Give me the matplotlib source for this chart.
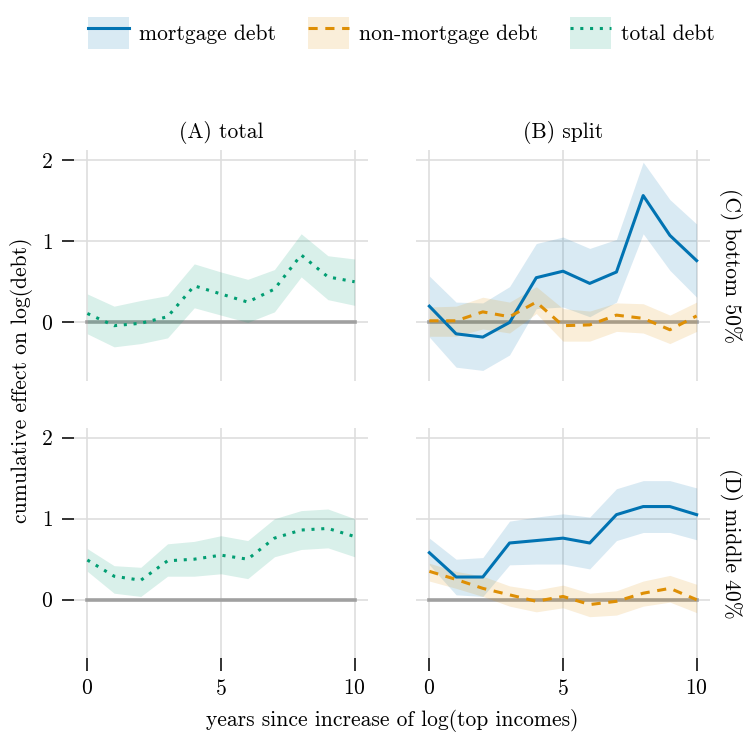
import matplotlib
matplotlib.use("Agg")
import matplotlib.pyplot as plt
from matplotlib.patches import Patch
from matplotlib.lines import Line2D
import numpy as np

plt.rcParams['font.family'] = ['cmr10', 'DejaVu Serif']
plt.rcParams['mathtext.fontset'] = 'cm'
plt.rcParams['axes.formatter.use_mathtext'] = True
plt.rcParams['axes.unicode_minus'] = False

years = list(range(11))

# (A)/(C) total debt, bottom 50%
tot_b50 = [0.11, -0.04, -0.01, 0.07, 0.45, 0.35, 0.25, 0.41, 0.83, 0.56, 0.50]
tot_b50_hi = [0.35, 0.20, 0.27, 0.33, 0.72, 0.62, 0.53, 0.65, 1.09, 0.82, 0.78]
tot_b50_lo = [-0.14, -0.30, -0.26, -0.19, 0.18, 0.09, 0.00, 0.13, 0.56, 0.28, 0.21]

# (B)/(C) split, bottom 50%
mort_b50 = [0.20, -0.14, -0.18, 0.00, 0.55, 0.63, 0.48, 0.62, 1.56, 1.07, 0.76]
mort_b50_hi = [0.57, 0.25, 0.24, 0.44, 0.97, 1.05, 0.91, 1.02, 1.97, 1.51, 1.21]
mort_b50_lo = [-0.18, -0.55, -0.59, -0.40, 0.17, 0.19, 0.07, 0.25, 1.09, 0.64, 0.31]
nonm_b50 = [0.02, 0.02, 0.13, 0.07, 0.25, -0.04, -0.03, 0.09, 0.05, -0.09, 0.08]
nonm_b50_hi = [0.19, 0.20, 0.31, 0.25, 0.44, 0.17, 0.14, 0.24, 0.23, 0.09, 0.25]
nonm_b50_lo = [-0.17, -0.17, -0.08, -0.13, 0.11, -0.23, -0.23, -0.11, -0.13, -0.26, -0.11]

# (A)/(D) total debt, middle 40%
tot_m40 = [0.49, 0.29, 0.24, 0.48, 0.50, 0.55, 0.50, 0.76, 0.86, 0.88, 0.78]
tot_m40_hi = [0.63, 0.42, 0.40, 0.69, 0.72, 0.79, 0.73, 1.00, 1.10, 1.12, 1.00]
tot_m40_lo = [0.35, 0.08, 0.04, 0.29, 0.29, 0.32, 0.26, 0.53, 0.62, 0.64, 0.53]

# (B)/(D) split, middle 40%
mort_m40 = [0.58, 0.28, 0.28, 0.70, 0.73, 0.76, 0.70, 1.05, 1.15, 1.15, 1.05]
mort_m40_hi = [0.76, 0.50, 0.52, 0.97, 1.02, 1.06, 1.02, 1.37, 1.47, 1.47, 1.38]
mort_m40_lo = [0.43, 0.06, 0.04, 0.43, 0.44, 0.44, 0.38, 0.73, 0.83, 0.83, 0.74]
nonm_m40 = [0.35, 0.25, 0.14, 0.06, -0.02, 0.04, -0.06, -0.02, 0.08, 0.14, 0.00]
nonm_m40_hi = [0.45, 0.35, 0.29, 0.17, 0.12, 0.18, 0.08, 0.11, 0.23, 0.30, 0.19]
nonm_m40_lo = [0.23, 0.14, 0.04, -0.08, -0.15, -0.10, -0.21, -0.19, -0.08, -0.03, -0.16]

col_titles = ["(A) total", "(B) split"]
row_titles = ["(C) bottom 50%", "(D) middle 40%"]
series_names = ["mortgage debt", "non-mortgage debt", "total debt"]
xticks = [0, 5, 10]
yticks = [0, 1, 2]

C_MORT = "#0173b2"
C_NONM = "#de8f05"
C_TOT = "#029e73"
FS = 15.5

W, H = 743, 736
fig = plt.figure(figsize=(W / 100, H / 100), dpi=100)

def rect(x0, y0, x1, y1):
    return [x0 / W, 1 - y1 / H, (x1 - x0) / W, (y1 - y0) / H]

axes = [[fig.add_axes(rect(74, 150, 368, 381)), fig.add_axes(rect(416, 150, 710, 381))],
        [fig.add_axes(rect(74, 428, 368, 658)), fig.add_axes(rect(416, 428, 710, 658))]]

data = {
    (0, 0): [("tot", tot_b50, tot_b50_lo, tot_b50_hi)],
    (0, 1): [("mort", mort_b50, mort_b50_lo, mort_b50_hi), ("nonm", nonm_b50, nonm_b50_lo, nonm_b50_hi)],
    (1, 0): [("tot", tot_m40, tot_m40_lo, tot_m40_hi)],
    (1, 1): [("mort", mort_m40, mort_m40_lo, mort_m40_hi), ("nonm", nonm_m40, nonm_m40_lo, nonm_m40_hi)],
}
styles = {"mort": (C_MORT, "-"), "nonm": (C_NONM, (0, (3, 2.5))), "tot": (C_TOT, (0, (1, 2.2)))}

for r in range(2):
    for c in range(2):
        ax = axes[r][c]
        for s in ax.spines.values():
            s.set_visible(False)
        ax.grid(True, color="#dedede", lw=1.2)
        ax.set_axisbelow(True)
        ax.set_xlim(-0.5, 10.5)
        ax.set_ylim(-0.72, 2.12)
        ax.set_xticks(xticks)
        ax.set_yticks(yticks)
        ax.plot([0, 10], [0, 0], color="#a0a0a0", lw=2.6, zorder=1.5)
        for key, y, lo, hi in data[(r, c)]:
            col, ls = styles[key]
            ax.fill_between(years, lo, hi, color=col, alpha=0.15, lw=0, zorder=2)
            ax.plot(years, y, color=col, ls=ls, lw=2.2, zorder=3)
        ax.tick_params(axis="both", direction="out", length=9, width=1.3,
                       labelsize=FS, color="#222222", pad=6)
        if c == 1:
            ax.tick_params(axis="y", left=False, labelleft=False)
        if r == 0:
            ax.tick_params(axis="x", bottom=False, labelbottom=False)
            ax.set_title(col_titles[c], fontsize=FS, pad=9)
        if c == 1:
            ax.text(1.03, 0.5, row_titles[r], transform=ax.transAxes, rotation=-90,
                    va="center", ha="left", fontsize=FS)

fig.text(22 / W, 1 - 380 / H, "cumulative effect on log(debt)", rotation=90,
         va="center", ha="center", fontsize=FS)
fig.text(392 / W, 1 - 720 / H, "years since increase of log(top incomes)",
         va="center", ha="center", fontsize=FS)

handles = [
    (Patch(facecolor=C_MORT, alpha=0.15, lw=0), Line2D([], [], color=C_MORT, lw=2.2, ls="-")),
    (Patch(facecolor=C_NONM, alpha=0.15, lw=0), Line2D([], [], color=C_NONM, lw=2.2, ls=(0, (3, 2.5)))),
    (Patch(facecolor=C_TOT, alpha=0.15, lw=0), Line2D([], [], color=C_TOT, lw=2.2, ls=(0, (1, 2.2)))),
]
fig.legend(handles, series_names, loc="center", bbox_to_anchor=(401.5 / W, 1 - 33 / H), ncol=3,
           frameon=False, fontsize=FS, handlelength=1.9, handleheight=1.9,
           handletextpad=0.45, columnspacing=1.5, borderaxespad=0)

fig.savefig("out.png", dpi=100)
